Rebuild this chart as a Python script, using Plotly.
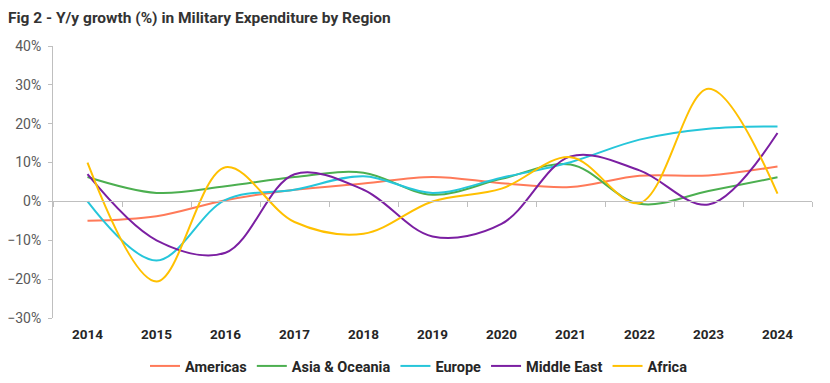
import plotly.graph_objects as go

years = ["2014", "2015", "2016", "2017", "2018", "2019", "2020", "2021", "2022", "2023", "2024"]
americas = [-5.0, -3.8, 0.3, 3.0, 4.6, 6.3, 4.7, 3.7, 6.6, 6.7, 9.0]
asia_oceania = [6.3, 2.2, 3.9, 6.3, 7.4, 1.7, 5.8, 9.5, -0.6, 2.7, 6.2]
europe = [0.0, -15.2, 0.4, 3.0, 6.5, 2.2, 6.1, 10.1, 15.9, 18.7, 19.3]
middle_east = [7.0, -10.0, -13.2, 7.0, 3.0, -9.0, -5.8, 11.6, 8.0, -0.8, 17.6]
africa = [10.0, -20.6, 8.8, -5.3, -8.3, 0.0, 3.3, 11.4, -0.4, 29.0, 2.0]

series = [
    ("Americas", americas, "#FF7A59"),
    ("Asia & Oceania", asia_oceania, "#4CAF50"),
    ("Europe", europe, "#26C6DA"),
    ("Middle East", middle_east, "#7B1FA2"),
    ("Africa", africa, "#FFC000"),
]

fig = go.Figure()
for name, vals, col in series:
    fig.add_trace(go.Scatter(x=years, y=vals, name=name, mode="lines",
                             line=dict(color=col, width=2, shape="spline", smoothing=1.0)))

# invisible trace to carry the zero-line category axis
fig.add_trace(go.Scatter(x=years, y=americas, xaxis="x2", mode="lines",
                         line=dict(color="rgba(0,0,0,0)"), showlegend=False, hoverinfo="skip"))

# page body has an 8px margin; figure is sized to fit inside the window
W, H = 822, 375
ymin, ymax = -30, 40
fig.update_layout(
    width=W, height=H,
    margin=dict(l=45, r=18, t=38, b=65, autoexpand=False),
    paper_bgcolor="white", plot_bgcolor="white",
    font=dict(family="Roboto, Arial, sans-serif", color="#595959"),
    title=dict(text="<b>Fig 2 - Y/y growth (%) in Military Expenditure by Region</b>",
               x=0.0, xanchor="left", xref="container",
               y=(H - 10) / H, yanchor="middle", yref="container",
               font=dict(size=15.5, color="#333333")),
    xaxis=dict(type="category", categoryorder="array", categoryarray=years,
               range=[-0.5, 10.5], showgrid=False, showline=False, zeroline=False,
               ticks="", tickfont=dict(size=13.5, color="#262626", weight="bold"),
               ticklabelstandoff=6),
    xaxis2=dict(type="category", categoryorder="array", categoryarray=years,
                range=[-0.5, 10.5], overlaying="x", anchor="free",
                position=(0 - ymin) / (ymax - ymin), side="bottom",
                showline=True, linecolor="#BFBFBF", linewidth=1,
                ticks="outside", ticklen=5, tickcolor="#BFBFBF", tickson="boundaries",
                showticklabels=False, showgrid=False, zeroline=False),
    yaxis=dict(range=[ymin, ymax], dtick=10, ticksuffix="%", showgrid=False,
               zeroline=False, showline=True, linecolor="#BFBFBF", linewidth=1,
               ticks="outside", ticklen=4, tickcolor="#BFBFBF", ticklabelstandoff=4,
               tickfont=dict(size=14, color="#595959")),
    legend=dict(orientation="h", x=0.5, xanchor="center", xref="container",
                y=17 / H, yanchor="middle", yref="container",
                font=dict(size=14.5, color="#262626", weight="bold"), itemwidth=30,
                traceorder="normal"),
    showlegend=True,
)

fig.write_html("out.html")
